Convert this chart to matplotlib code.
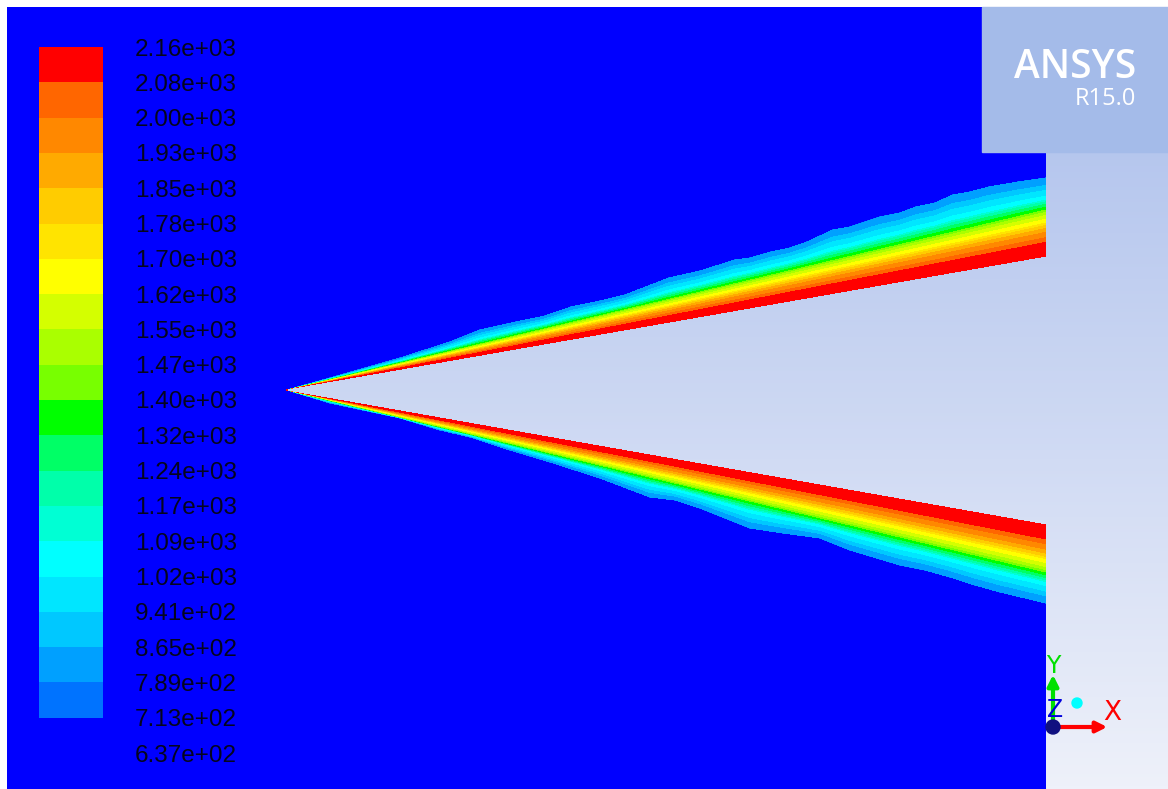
import matplotlib.pyplot as plt
import numpy as np
from matplotlib.colors import LinearSegmentedColormap
from matplotlib.patches import Circle, Rectangle

# Static temperature contour levels (K), as printed on the legend
levels = [637, 713, 789, 865, 941, 1020, 1090, 1170, 1240, 1320, 1400,
          1470, 1550, 1620, 1700, 1780, 1850, 1930, 2000, 2080, 2160]

# Fluent rainbow, one colour per band (coolest first)
band_colors = ["#0000ff", "#0073ff", "#00a0ff", "#00c8ff", "#00e6ff",
               "#00ffff", "#00ffd4", "#00ffaa", "#00ff66", "#00ff00",
               "#78ff00", "#aaff00", "#d4ff00", "#ffff00", "#ffe400",
               "#ffcc00", "#ffaa00", "#ff8800", "#ff6600", "#ff0000"]

# Temperature across the flame front: 0 = hot inner edge, 1 = outer edge
front_levels = [2160, 2080, 2000, 1930, 1850, 1780, 1700, 1620, 1550, 1470,
                1400, 1320, 1240, 1170, 1090, 1020, 941, 865, 789]
front_frac = [0.0, 0.19, 0.25, 0.32, 0.37, 0.41, 0.44, 0.49, 0.54, 0.58,
              0.61, 0.645, 0.68, 0.71, 0.73, 0.78, 0.85, 0.91, 1.0]

# Flame holder tip and outlet plane (screen units, y pointing down)
tip_x, tip_y = 287, 390
outlet_x = 1046
inner_top_end, inner_bot_end = 257, 524      # hot edge at the outlet
green_top_end, green_bot_end = 210, 572      # 1400 K line at the outlet

# Ragged outer edge of the flame brush
top_outer_x = [287, 330, 400, 450, 480, 516, 545, 571, 600, 625, 669, 700,
               735, 750, 771, 790, 807, 833, 850, 880, 900, 916, 935, 953,
               970, 989, 1018, 1046]
top_outer_y = [390, 378, 358, 342, 330, 322, 316, 307, 301, 295, 278, 271,
               260, 258, 252, 248, 242, 230, 227, 217, 213, 207, 203, 195,
               192, 187, 182, 178]
bot_outer_x = [287, 330, 400, 440, 470, 510, 550, 600, 650, 675, 700, 730,
               750, 783, 820, 850, 900, 925, 950, 975, 1000, 1046]
bot_outer_y = [390, 403, 418, 430, 437, 450, 462, 478, 497, 500, 508, 520,
               528, 533, 538, 550, 565, 570, 577, 585, 592, 603]

W, H = 1168, 789


def front_position(d, g, o, f_green):
    g = np.maximum(g, 1e-6)
    o = np.maximum(o, g + 1e-6)
    return np.where(d <= g, f_green * d / g,
                    f_green + (1 - f_green) * (d - g) / (o - g))


def temperature_field():
    xs = np.arange(7, outlet_x + 0.5, 1.0)
    ys = np.arange(7, H + 0.5, 1.0)
    X, Y = np.meshgrid(xs, ys)

    inner_top = np.interp(xs, [tip_x, outlet_x], [tip_y, inner_top_end])
    inner_bot = np.interp(xs, [tip_x, outlet_x], [tip_y, inner_bot_end])
    green_top = np.interp(xs, [tip_x, outlet_x], [tip_y, green_top_end])
    green_bot = np.interp(xs, [tip_x, outlet_x], [tip_y, green_bot_end])
    outer_top = np.interp(xs, top_outer_x, top_outer_y)
    outer_bot = np.interp(xs, bot_outer_x, bot_outer_y)

    f_green = front_frac[front_levels.index(1400)]
    d_top = inner_top[None, :] - Y
    d_bot = Y - inner_bot[None, :]
    f_top = front_position(d_top, inner_top - green_top,
                           inner_top - outer_top, f_green)
    f_bot = front_position(d_bot, green_bot - inner_bot,
                           outer_bot - inner_bot, f_green)

    upper = Y < 0.5 * (inner_top + inner_bot)[None, :]
    f = np.where(upper, f_top, f_bot)
    d = np.where(upper, d_top, d_bot)
    f = np.where(X < tip_x, 2.0, f)

    T = np.interp(f, front_frac, front_levels)
    T = np.where(f > 1, 675.0, T)
    # hot core above the top level is not drawn
    T = np.ma.masked_where((d < 0) & (X >= tip_x), T)
    return X, Y, T


fig = plt.figure(figsize=(W / 100, H / 100), dpi=100)
ax = fig.add_axes([0, 0, 1, 1])
ax.set_xlim(0, W)
ax.set_ylim(H, 0)
ax.axis("off")

# graphics window background
grad = LinearSegmentedColormap.from_list("bg", ["#a9bdeb", "#eef1fa"])
ax.imshow(np.linspace(0, 1, 256).reshape(-1, 1), cmap=grad,
          extent=(0, W, H, 7), aspect="auto", zorder=0)
ax.add_patch(Rectangle((0, 0), W, 7, color="white", zorder=1))
ax.add_patch(Rectangle((0, 0), 7, H, color="white", zorder=1))

X, Y, T = temperature_field()
cs = ax.contourf(X, Y, T, levels=levels, colors=band_colors, zorder=2,
                 antialiased=False)

# legend
cax = fig.add_axes([39 / W, (H - 753) / H, 64 / W, 706 / H])
cb = fig.colorbar(cs, cax=cax, ticks=levels)
cb.outline.set_visible(False)
cax.tick_params(length=0, pad=23, labelsize=17.5, labelcolor="#05051e")
cax.set_yticklabels([f"{v:.2e}" for v in levels],
                    family=["Liberation Sans", "DejaVu Sans"])

# logo box
ax.add_patch(Rectangle((982, 7), W - 982, 145, color="#a4bbe9", zorder=3))
ax.text(1136, 78, "ANSYS", color="white", fontsize=28, ha="right",
        va="baseline", family=["Open Sans", "DejaVu Sans"], weight="semibold",
        zorder=4)
ax.text(1136, 105, "R15.0", color="white", fontsize=17, ha="right",
        va="baseline", family=["Open Sans", "DejaVu Sans"], zorder=4)

# coordinate triad
ox, oy = 1053, 727
ax.annotate("", xy=(ox, 672), xytext=(ox, oy),
            arrowprops=dict(arrowstyle="-|>", color="#00e000", lw=3,
                            mutation_scale=16), zorder=5)
ax.annotate("", xy=(1110, oy), xytext=(ox, oy),
            arrowprops=dict(arrowstyle="-|>", color="#ff0000", lw=3,
                            mutation_scale=16), zorder=5)
ax.text(ox, 666, "Y", color="#00e000", fontsize=17, ha="center",
        va="center", zorder=6)
ax.text(1112, 713, "X", color="#ff0000", fontsize=19, ha="center",
        va="center", zorder=6)
ax.text(1055, 710, "Z", color="#0000dd", fontsize=17, ha="center",
        va="center", zorder=6)
ax.add_patch(Circle((ox, oy), 7, color="#101080", zorder=7))
ax.add_patch(Circle((1077, 703), 5, color="#00ffff", zorder=6))

fig.savefig("out.png", dpi=100)
